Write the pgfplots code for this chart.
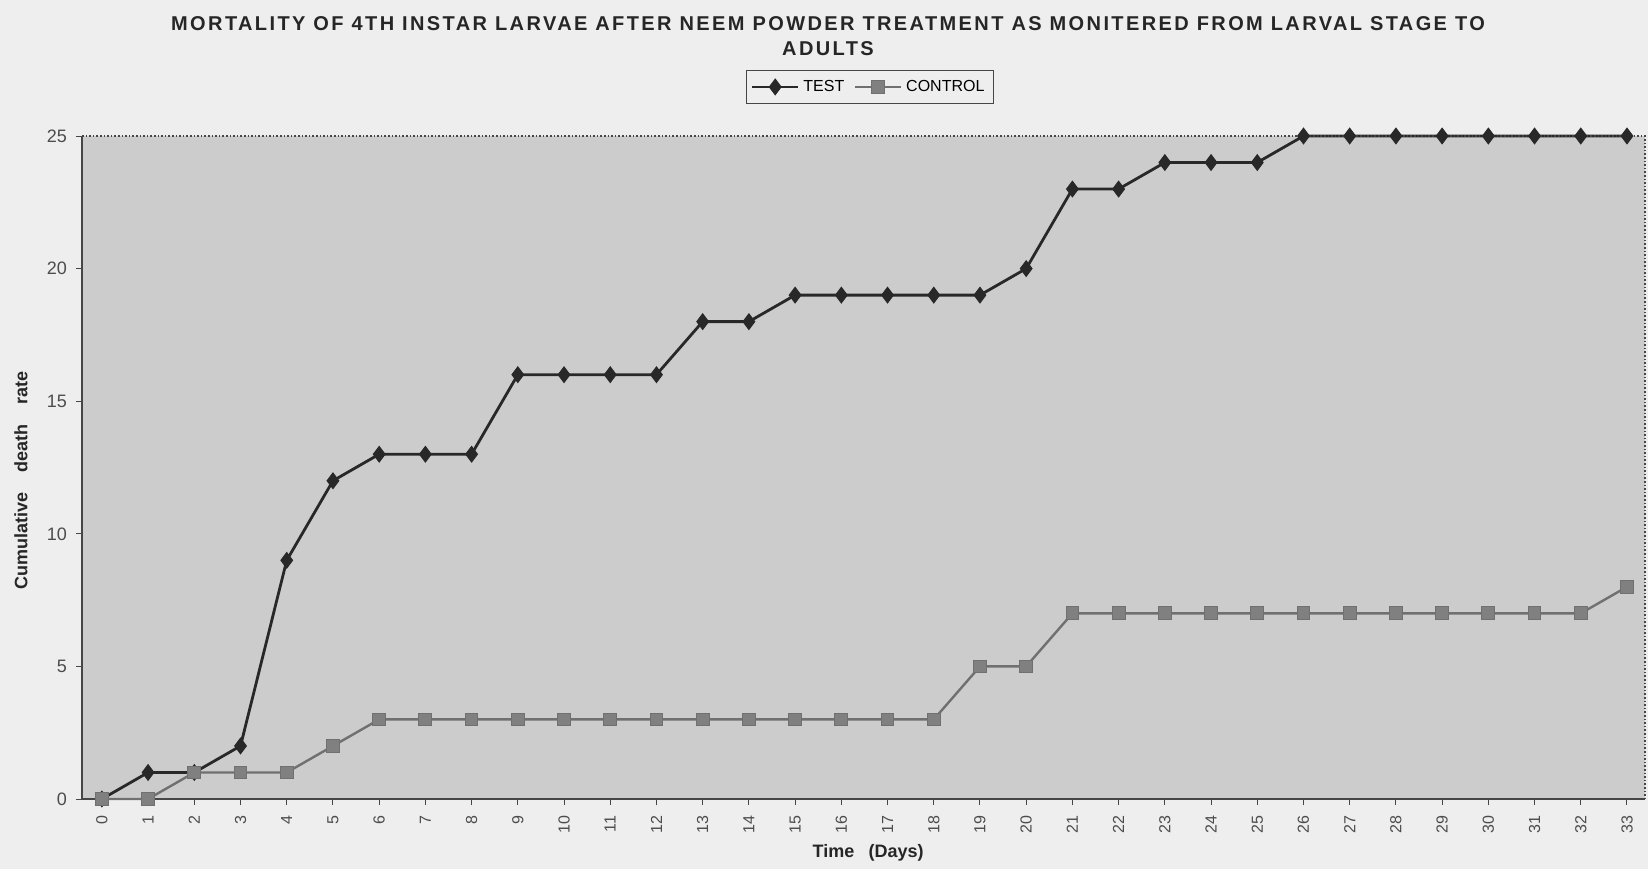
\documentclass[border=0pt]{standalone}
\usepackage{pgfplots}
\pgfplotsset{compat=1.18}
\usepackage{fontspec}
\setmainfont{Liberation Sans}
\newfontfamily\titlefont[LetterSpace=12]{Liberation Sans}
\definecolor{plotbg}{RGB}{204,204,204}
\definecolor{pagebg}{RGB}{238,238,238}
\definecolor{testc}{RGB}{40,40,40}
\definecolor{ctrlc}{RGB}{112,112,112}
\definecolor{ctrlfill}{RGB}{128,128,128}
\definecolor{axc}{RGB}{70,70,70}
\begin{document}
\begin{tikzpicture}
\fill[pagebg] (-41pt,-35pt) rectangle (783pt,399.5pt);
\node[font=\titlefont\fontsize{10}{12.5}\selectfont\bfseries, align=center, text=black!85] at (373pt,381.5pt)
  {MORTALITY OF 4TH INSTAR LARVAE AFTER NEEM POWDER TREATMENT AS MONITERED FROM LARVAL STAGE TO\\ADULTS};
\begin{axis}[
  at={(0pt,0pt)}, anchor=south west,
  scale only axis, width=781.5pt, height=331.5pt,
  xmin=-0.43, xmax=33.39, ymin=0, ymax=25,
  axis background/.style={fill=plotbg},
  axis x line*=bottom, axis y line*=left,
  axis line style={axc, line width=0.8pt},
  xtick={0,...,33}, ytick={0,5,...,25},
  tick align=outside, major tick length=3pt,
  tick style={axc, line width=0.5pt},
  xticklabel style={rotate=90, anchor=east, font=\fontsize{8}{9}\selectfont, text=black!70, xshift=-2pt},
  yticklabel style={font=\fontsize{9}{10}\selectfont, text=black!70, xshift=-1pt},
  /pgf/number format/assume math mode=true,
  xlabel={Time\hspace{0.8em}(Days)},
  ylabel={Cumulative\hspace{1.1em}death\hspace{1.1em}rate},
  xlabel style={at={(axis description cs:0.503,-0.081)}, anchor=center, font=\fontsize{9}{10}\selectfont\bfseries, text=black!85},
  ylabel style={at={(axis description cs:-0.039,0.48)}, anchor=center, rotate=0, font=\fontsize{9}{10}\selectfont\bfseries, text=black!85},
  legend columns=2,
  legend style={at={(axis description cs:0.504,1.074)}, anchor=center, draw=axc, fill=pagebg,
    font=\fontsize{8}{9}\selectfont, inner sep=2.5pt, /tikz/every even column/.append style={column sep=3pt}},
  legend image code/.code={\draw[#1] (0pt,0pt) -- (0.8cm,0pt); \draw[#1,only marks] plot coordinates {(0.4cm,0pt)};},
  clip=false,
]
\addplot[testc, line width=1.4pt, mark=diamond*, mark size=3.9pt, mark options={fill=testc, solid, line width=0.5pt}]
  coordinates {(0,0)(1,1)(2,1)(3,2)(4,9)(5,12)(6,13)(7,13)(8,13)(9,16)(10,16)(11,16)(12,16)(13,18)(14,18)(15,19)(16,19)(17,19)(18,19)(19,19)(20,20)(21,23)(22,23)(23,24)(24,24)(25,24)(26,25)(27,25)(28,25)(29,25)(30,25)(31,25)(32,25)(33,25)};
\addlegendentry{TEST}
\addplot[ctrlc, line width=1.2pt, mark=square*, mark size=3.2pt, mark options={fill=ctrlfill, draw=ctrlc, solid, line width=0.5pt}]
  coordinates {(0,0)(1,0)(2,1)(3,1)(4,1)(5,2)(6,3)(7,3)(8,3)(9,3)(10,3)(11,3)(12,3)(13,3)(14,3)(15,3)(16,3)(17,3)(18,3)(19,5)(20,5)(21,7)(22,7)(23,7)(24,7)(25,7)(26,7)(27,7)(28,7)(29,7)(30,7)(31,7)(32,7)(33,8)};
\addlegendentry{CONTROL}
\draw[axc, densely dotted, line width=0.8pt] (rel axis cs:0,1) -- (rel axis cs:1,1) -- (rel axis cs:1,0);
\end{axis}
\end{tikzpicture}
\end{document}
